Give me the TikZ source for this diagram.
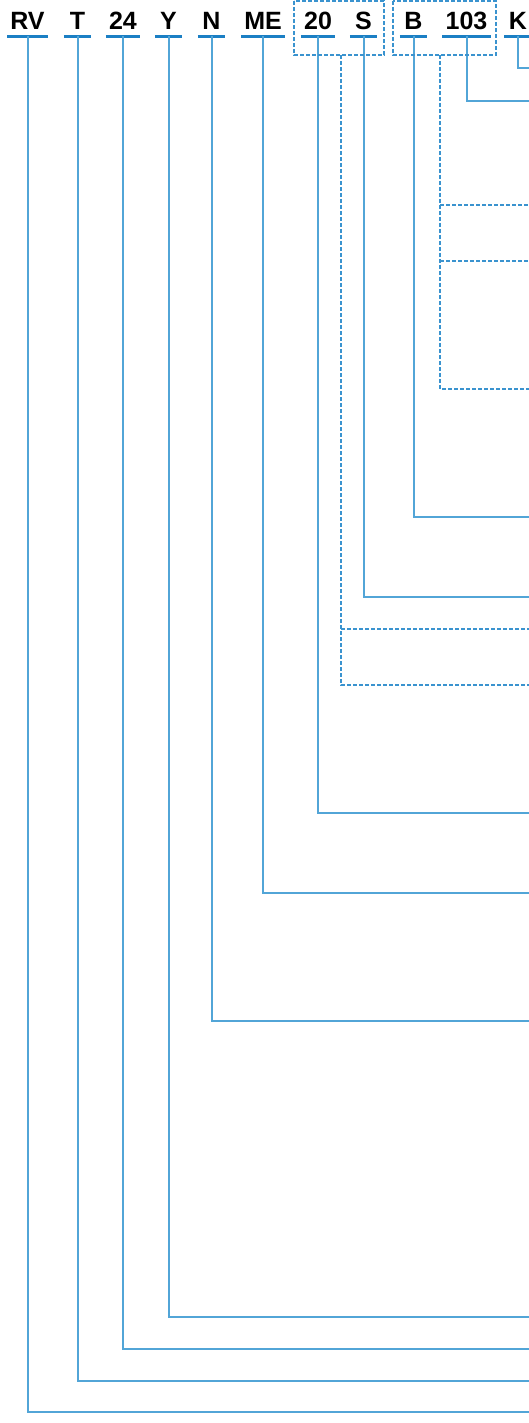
\documentclass[tikz,border=0pt]{standalone}
\usepackage{fontspec}
\setmainfont{Liberation Sans}
\usepackage{tikz}

\definecolor{codeblue}{HTML}{1B7FC4}
\definecolor{lineblue}{HTML}{52A5D7}
\definecolor{groupblue}{HTML}{3A93CF}

\begin{document}
\begin{tikzpicture}[x=1pt,y=-1pt,
    code/.style={font=\fontsize{25}{30}\selectfont\bfseries, anchor=base,
      inner xsep=3pt, inner ysep=6pt, minimum width=27pt,
      text height=18pt, text depth=0pt},
    underline/.style={codeblue, line width=3pt},
    link/.style={lineblue, line width=2pt},
    grp/.style={groupblue, line width=1.4pt, dash pattern=on 4pt off 2pt}]

  % page size of the reference
  \useasboundingbox (0,0) rectangle (529,1423);

  % parameters
  \def\xend{529}  % right edge, where the leaders stop
  \def\ybase{30}  % baseline of the code letters

  % code letters with their underlines
  \foreach \name/\txt/\x in {RV/RV/27.5, T/T/77.5, 24/24/123, Y/Y/168.5,
                             N/N/211.5, ME/ME/263, 20/20/318, S/S/363.5,
                             B/B/413.5, 103/103/466.5, K/K/518} {
    \node[code] (c\name) at (\x,\ybase) {\txt};
    \draw[underline] (c\name.south west) -- (c\name.south east);
  }

  % leader ends on the right edge
  \foreach \name/\y in {K/68, 103/101, B/517, S/597, 20/813, ME/893,
                        N/1021, Y/1317, 24/1349, T/1381, RV/1412} {
    \coordinate (e\name) at (\xend,\y);
    \draw[link] (c\name.south) |- (e\name);
  }

  % dashed groups: 20 S and B 103
  \draw[grp] (294,1) rectangle (384,55);
  \draw[grp] (393,1) rectangle (496,55);

  % branches of group 20 S
  \coordinate (gA) at (341,55);
  \coordinate (gA1) at (\xend,629);
  \coordinate (gA2) at (\xend,685);
  \draw[grp] (gA) |- (gA2);
  \draw[grp] (gA |- gA1) -- (gA1);

  % branches of group B 103
  \coordinate (gB) at (440,55);
  \coordinate (gB1) at (\xend,205);
  \coordinate (gB2) at (\xend,261);
  \coordinate (gB3) at (\xend,389);
  \draw[grp] (gB) |- (gB3);
  \draw[grp] (gB |- gB1) -- (gB1);
  \draw[grp] (gB |- gB2) -- (gB2);

\end{tikzpicture}
\end{document}
